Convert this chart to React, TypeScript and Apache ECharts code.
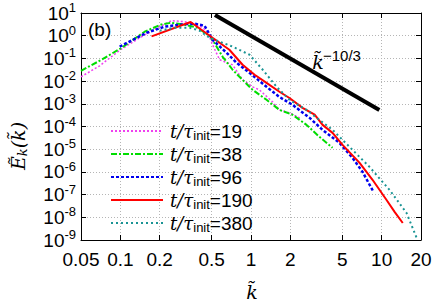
import React, { useEffect, useRef } from "react";
import * as echarts from "echarts";

const xTicks = [0.05, 0.1, 0.2, 0.5, 1, 2, 5, 10, 20];
const xTickLabels = ["0.05", "0.1", "0.2", "0.5", "1", "2", "5", "10", "20"];
const yMinExp = -9;
const yMaxExp = 1;

const seriesNames = ["t/τinit=19", "t/τinit=38", "t/τinit=96", "t/τinit=190", "t/τinit=380"];

const k19 = [0.05, 0.0695, 0.1, 0.141, 0.2, 0.247, 0.311, 0.404, 0.466, 0.508, 0.575, 0.723, 0.862, 1.03, 1.16, 1.46, 1.65, 1.97, 2.36];
const e19 = [0.0155, 0.047, 0.24, 0.81, 2.5, 4.6, 4.1, 2.75, 1.5, 0.4, 0.087, 0.052, 0.0114, 0.0056, 0.0041, 0.00123, 0.00054, 0.0004, 0.00024];

const k38 = [0.05, 0.0695, 0.1, 0.1535, 0.203, 0.2425, 0.311, 0.39, 0.491, 0.607, 0.723, 0.862, 1.03, 1.315, 1.65, 2.08, 2.66, 3.34, 4.21];
const e38 = [0.0285, 0.079, 0.27, 1.5, 3.05, 3.7, 3.05, 2.25, 0.9, 0.118, 0.0316, 0.0113, 0.0041, 0.0015, 0.00054, 0.00033, 0.000118, 0.000035, 0.0000115];

const k96 = [0.0988, 0.159, 0.218, 0.284, 0.37, 0.441, 0.508, 0.65, 0.776, 0.975, 1.315, 1.65, 2.08, 2.81, 3.53, 4.76, 5.99, 7.14, 8.67];
const e96 = [0.33, 1.35, 2.5, 3.05, 3.4, 2.75, 0.66, 0.177, 0.064, 0.023, 0.0056, 0.002, 0.0009, 0.00024, 0.000071, 0.000019, 0.0000041, 0.000001, 1.3e-7];

const k190 = [0.1734, 0.345, 0.508, 0.683, 0.862, 1.066, 1.315, 1.65, 1.97, 2.48, 3.07, 3.53, 4.21, 5.02, 6.78, 8.51, 10.9, 12.6, 14.5];
const e190 = [0.93, 4.0, 0.81, 0.24, 0.0525, 0.019, 0.0084, 0.0034, 0.0018, 0.00066, 0.00033, 0.000118, 0.0000525, 0.0000155, 0.0000025, 4.5e-7, 5.8e-8, 1.7e-8, 5.6e-9];

const k380 = [0.2, 0.26, 0.339, 0.404, 0.482, 0.723, 0.975, 1.23, 1.57, 1.97, 2.66, 3.34, 4.21, 5.67, 8.07, 11.5, 15.5, 18.8];
const e380 = [1.66, 2.25, 2.25, 1.66, 0.81, 0.33, 0.145, 0.0316, 0.0056, 0.0015, 0.00054, 0.000196, 0.000071, 0.0000127, 1.66e-6, 1.6e-7, 1.55e-8, 1e-9];

const refK = [0.53, 9.6];
const refE = [8.1, 5.3e-4];

const toPts = (ks: number[], es: number[]) => ks.map((k, i) => [Math.log10(k), Math.log10(es[i])]);

const SANS = "'Liberation Sans', Arial, sans-serif";
const SERIF = "'DejaVu Serif', 'Liberation Serif', serif";

export default function App() {
  const ref = useRef<HTMLDivElement>(null);
  useEffect(() => {
    document.body.style.margin = "0";
    if (!ref.current) return;
    const chart = echarts.init(ref.current, undefined, { renderer: "svg" });
    const xLog = xTicks.map((v) => Math.log10(v));
    const xFmt = (v: number) => {
      let best = 0;
      let d = Infinity;
      xLog.forEach((t, i) => {
        if (Math.abs(t - v) < d) {
          d = Math.abs(t - v);
          best = i;
        }
      });
      return xTickLabels[best];
    };
    const gridLine = { show: true, lineStyle: { color: "#b5b5b5", width: 1, type: [1, 2] as number[] } };
    const lineSeries = (name: string, ks: number[], es: number[], color: string, width: number, type: any) => ({
      name,
      type: "line",
      data: toPts(ks, es),
      symbol: "none",
      lineStyle: { color, width, type },
      itemStyle: { color },
      z: 3,
    });
    chart.setOption({
      animation: false,
      grid: { left: 81, right: 15, top: 13, bottom: 62, outerBoundsMode: "none" },
      legend: {
        orient: "vertical",
        left: 105,
        top: 115,
        itemWidth: 52,
        itemHeight: 14,
        itemGap: 1,
        data: seriesNames,
        itemStyle: { opacity: 0 },
        formatter: (name: string) => `{i|t/τ}{s|init}{n|=${name.split("=")[1]}}`,
        textStyle: {
          padding: [0, 0, 0, 2],
          lineHeight: 22,
          rich: {
            i: { fontFamily: SERIF, fontStyle: "italic", fontSize: 18, color: "#000", lineHeight: 22 },
            s: { fontFamily: SANS, fontSize: 13, color: "#000", verticalAlign: "bottom", lineHeight: 16 },
            n: { fontFamily: SANS, fontSize: 19, color: "#000", lineHeight: 22 },
          },
        },
      },
      xAxis: [
        {
          type: "value",
          position: "bottom",
          min: Math.log10(0.05),
          max: Math.log10(20),
          axisLine: { show: true, onZero: false, lineStyle: { color: "#000", width: 1 } },
          axisTick: { show: true, inside: true, length: 5, customValues: xLog, lineStyle: { color: "#000" } },
          axisLabel: { customValues: xLog, formatter: xFmt, fontFamily: SANS, fontSize: 19, color: "#000", margin: 10 },
          splitLine: gridLine,
        },
        {
          type: "value",
          position: "top",
          min: Math.log10(0.05),
          max: Math.log10(20),
          axisLine: { show: true, onZero: false, lineStyle: { color: "#000", width: 1 } },
          axisTick: { show: true, inside: true, length: 5, customValues: xLog, lineStyle: { color: "#000" } },
          axisLabel: { show: false },
          splitLine: { show: false },
        },
      ],
      yAxis: [
        {
          type: "value",
          position: "left",
          min: yMinExp,
          max: yMaxExp,
          interval: 1,
          axisLine: { show: true, onZero: false, lineStyle: { color: "#000", width: 1 } },
          axisTick: { show: true, inside: true, length: 5, lineStyle: { color: "#000" } },
          axisLabel: {
            margin: 5,
            formatter: (v: number) => `{b|10}{s|${v}}`,
            rich: {
              b: { fontFamily: SANS, fontSize: 19, color: "#000", lineHeight: 24 },
              s: { fontFamily: SANS, fontSize: 13, color: "#000", verticalAlign: "top", lineHeight: 11 },
            },
          },
          splitLine: gridLine,
        },
        {
          type: "value",
          position: "right",
          min: yMinExp,
          max: yMaxExp,
          interval: 1,
          axisLine: { show: true, onZero: false, lineStyle: { color: "#000", width: 1 } },
          axisTick: { show: true, inside: true, length: 5, lineStyle: { color: "#000" } },
          axisLabel: { show: false },
          splitLine: { show: false },
        },
      ],
      series: [
        lineSeries(seriesNames[0], k19, e19, "#f040f0", 1.5, [2, 2]),
        lineSeries(seriesNames[1], k38, e38, "#00dd00", 2, [6, 2, 2, 2]),
        lineSeries(seriesNames[2], k96, e96, "#0000ee", 2.5, [3, 2]),
        lineSeries(seriesNames[3], k190, e190, "#ff0000", 2, "solid"),
        lineSeries(seriesNames[4], k380, e380, "#1a9494", 2, [2, 3]),
        {
          name: "ref",
          type: "line",
          data: toPts(refK, refE),
          symbol: "none",
          lineStyle: { color: "#000", width: 4 },
          z: 4,
        },
      ],
      graphic: [
        { type: "text", left: 88, top: 20, style: { text: "(b)", font: `19px ${SANS}`, fill: "#000" }, z: 10 },
        {
          type: "text",
          x: 318,
          y: 62,
          style: { text: "k\u0303", font: `italic 19px ${SERIF}`, fill: "#000", align: "center", verticalAlign: "middle" },
          z: 10,
        },
        {
          type: "text",
          x: 323,
          y: 55,
          style: { text: "\u221210/3", font: `15px ${SANS}`, fill: "#000", align: "left", verticalAlign: "middle" },
          z: 10,
        },
        {
          type: "text",
          x: 252,
          y: 292,
          style: { text: "k\u0303", font: `italic 19px ${SERIF}`, fill: "#000", align: "center", verticalAlign: "middle" },
          z: 10,
        },
        {
          type: "text",
          x: 18,
          y: 146,
          rotation: Math.PI / 2,
          style: {
            text: "{e|E\u0303}{k|k}{e|(k\u0303)}",
            align: "center",
            verticalAlign: "middle",
            rich: {
              e: { fontFamily: SERIF, fontStyle: "italic", fontSize: 19, fill: "#000", color: "#000", lineHeight: 22 },
              k: { fontFamily: SERIF, fontStyle: "italic", fontSize: 13, fill: "#000", color: "#000", verticalAlign: "bottom", lineHeight: 14 },
            },
          },
          z: 10,
        },
      ],
    });
    return () => chart.dispose();
  }, []);
  return <div ref={ref} style={{ width: 436, height: 302 }} />;
}
